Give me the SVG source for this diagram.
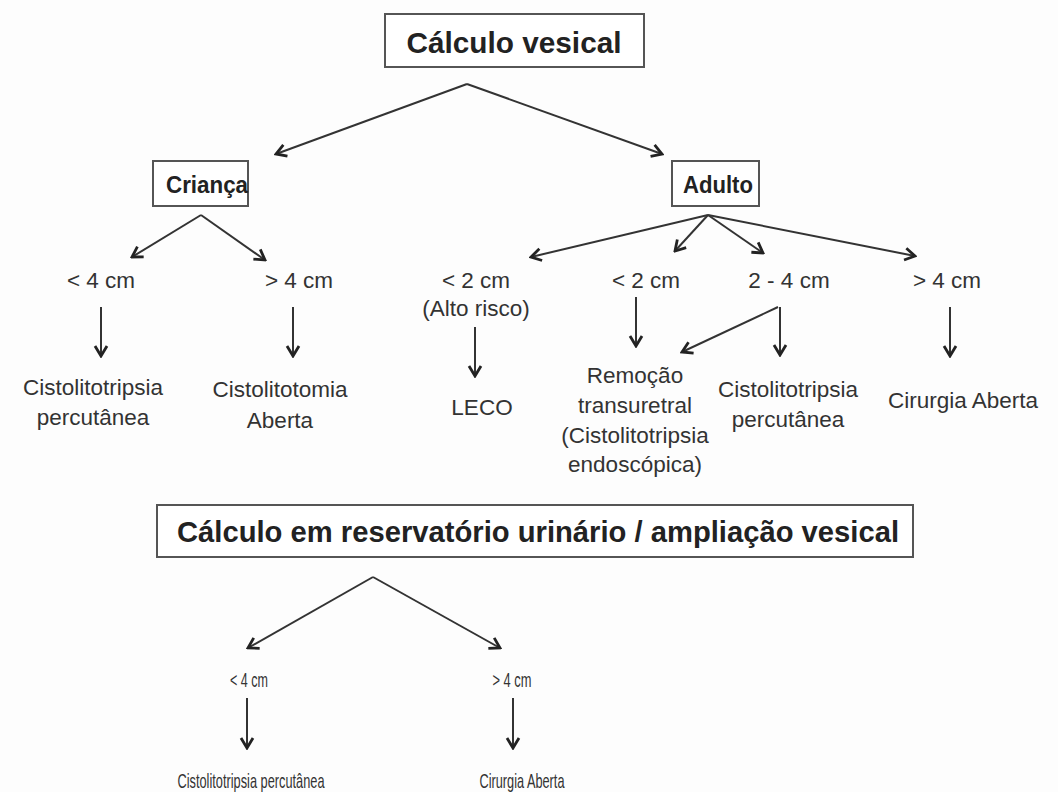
<svg xmlns="http://www.w3.org/2000/svg" width="1058" height="792" viewBox="0 0 1058 792">
<defs>
<style>
.box{fill:#ffffff;stroke:#555;stroke-width:2}
.title{font-family:"Liberation Sans",Arial,sans-serif;font-weight:bold;font-size:30px;fill:#222;text-anchor:middle}
.sub{font-family:"Liberation Sans",Arial,sans-serif;font-weight:bold;font-size:24px;fill:#222;text-anchor:middle}
.t{font-family:"Liberation Sans",Arial,sans-serif;font-size:22.5px;fill:#333;text-anchor:middle}
.s{font-family:"Liberation Sans",Arial,sans-serif;font-size:21px;fill:#333;text-anchor:middle}
.c{fill:none;stroke:#333;stroke-width:2;marker-end:url(#ah)}
</style>
<marker id="ah" viewBox="0 0 16 16" refX="14" refY="8" markerWidth="16" markerHeight="16" markerUnits="userSpaceOnUse" orient="auto">
<path d="M4,2 L14,8 L4,14" fill="none" stroke="#222" stroke-width="2.8"/>
</marker>
</defs>
<rect width="1058" height="792" fill="#fdfdfd"/>

<g id="connectors">
<line class="c" x1="467" y1="84" x2="276" y2="154"/>
<line class="c" x1="467" y1="84" x2="662" y2="154"/>
<line class="c" x1="201" y1="215" x2="132" y2="257"/>
<line class="c" x1="201" y1="215" x2="265" y2="260"/>
<line class="c" x1="708" y1="215" x2="531" y2="257"/>
<line class="c" x1="708" y1="215" x2="675" y2="251"/>
<line class="c" x1="708" y1="215" x2="763" y2="253"/>
<line class="c" x1="708" y1="215" x2="915" y2="256"/>
<line class="c" x1="101" y1="307" x2="101" y2="356"/>
<line class="c" x1="293" y1="307" x2="293" y2="356"/>
<line class="c" x1="475" y1="327" x2="475" y2="376"/>
<line class="c" x1="636" y1="297" x2="636" y2="346"/>
<line class="c" x1="780" y1="307" x2="780" y2="355"/>
<line class="c" x1="778" y1="307" x2="682" y2="352"/>
<line class="c" x1="950" y1="307" x2="950" y2="356"/>
<line class="c" x1="373" y1="577" x2="248" y2="648"/>
<line class="c" x1="373" y1="577" x2="500" y2="648"/>
<line class="c" x1="247" y1="698" x2="247" y2="748"/>
<line class="c" x1="513" y1="698" x2="513" y2="748"/>
</g>

<g id="calculo-vesical">
<rect class="box" x="385" y="14" width="259" height="53"/>
<text class="title" x="514" y="53" textLength="215" lengthAdjust="spacingAndGlyphs">Cálculo vesical</text>
</g>
<g id="crianca">
<rect class="box" x="153" y="161" width="95" height="45"/>
<text class="sub" x="207" y="193" textLength="82" lengthAdjust="spacingAndGlyphs">Criança</text>
</g>
<g id="adulto">
<rect class="box" x="672" y="161" width="87" height="45"/>
<text class="sub" x="718" y="193" textLength="70" lengthAdjust="spacingAndGlyphs">Adulto</text>
</g>

<g id="c-lt4"><text class="t" x="101" y="288">&lt; 4 cm</text></g>
<g id="c-gt4"><text class="t" x="299" y="288">&gt; 4 cm</text></g>
<g id="a-lt2-risco"><text class="t" x="476" y="288">&lt; 2 cm</text><text class="t" x="476" y="316">(Alto risco)</text></g>
<g id="a-lt2"><text class="t" x="646" y="288">&lt; 2 cm</text></g>
<g id="a-2-4"><text class="t" x="789" y="288">2 - 4 cm</text></g>
<g id="a-gt4"><text class="t" x="947" y="288">&gt; 4 cm</text></g>

<g id="c-cistolitotripsia"><text class="t" x="93" y="395">Cistolitotripsia</text><text class="t" x="93" y="425">percutânea</text></g>
<g id="c-cistolitotomia"><text class="t" x="280" y="397">Cistolitotomia</text><text class="t" x="280" y="428">Aberta</text></g>
<g id="leco"><text class="t" x="482" y="415">LECO</text></g>
<g id="remocao"><text class="t" x="635" y="383">Remoção</text><text class="t" x="635" y="413">transuretral</text><text class="t" x="635" y="443">(Cistolitotripsia</text><text class="t" x="635" y="472">endoscópica)</text></g>
<g id="a-cistolitotripsia"><text class="t" x="788" y="397">Cistolitotripsia</text><text class="t" x="788" y="427">percutânea</text></g>
<g id="a-cirurgia"><text class="t" x="963" y="408">Cirurgia Aberta</text></g>

<g id="reservatorio">
<rect class="box" x="157" y="505" width="756" height="52"/>
<text class="title" x="538" y="542" textLength="722" lengthAdjust="spacingAndGlyphs">Cálculo em reservatório urinário / ampliação vesical</text>
</g>
<g id="r-lt4"><text class="s" x="249" y="687" textLength="38" lengthAdjust="spacingAndGlyphs">&lt; 4 cm</text></g>
<g id="r-gt4"><text class="s" x="512" y="687" textLength="39" lengthAdjust="spacingAndGlyphs">&gt; 4 cm</text></g>
<g id="r-cistolitotripsia"><text class="s" x="251" y="788" textLength="147" lengthAdjust="spacingAndGlyphs">Cistolitotripsia percutânea</text></g>
<g id="r-cirurgia"><text class="s" x="522" y="788" textLength="85" lengthAdjust="spacingAndGlyphs">Cirurgia Aberta</text></g>
</svg>
